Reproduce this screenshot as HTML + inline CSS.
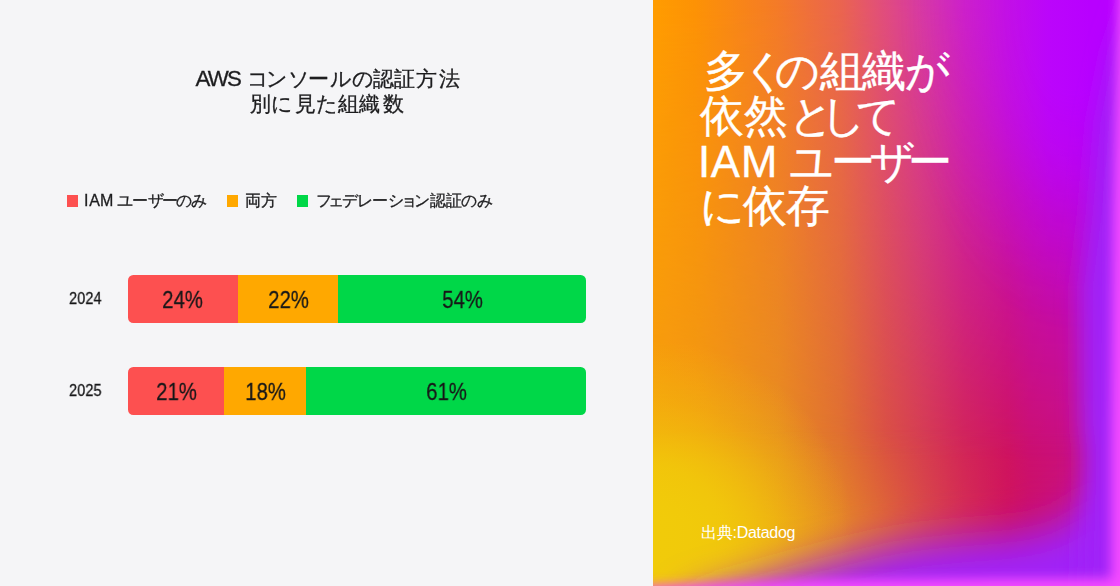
<!DOCTYPE html>
<html lang="ja">
<head>
<meta charset="utf-8">
<title>AWS コンソールの認証方法別に見た組織数</title>
<style>
*{margin:0;padding:0;box-sizing:border-box}
html,body{width:1120px;height:586px;overflow:hidden;background:#f5f5f7}
body{font-family:"Liberation Sans",sans-serif;color:#1d1d1f;position:relative}
.left{position:absolute;left:0;top:0;width:653px;height:586px;background:#f5f5f7}
.tl,.lg,.yr,.bar b{will-change:transform;-webkit-text-stroke:0.3px #1d1d1f}
.tl{position:absolute;font-size:21px;height:25px;line-height:25px;white-space:nowrap;font-weight:400}
.lg{position:absolute;top:190px;height:22px;font-size:16px;line-height:22px;white-space:nowrap}
.sw{position:absolute;top:195.4px;width:11.2px;height:11.2px}
.yr{position:absolute;left:69px;font-size:16.6px;line-height:20px;transform:scaleX(.88);transform-origin:0 50%;color:#161617}
.bar{position:absolute;left:127.7px;width:458.4px;height:48.4px;border-radius:5.3px;overflow:hidden}
.bar div{position:absolute;top:0;height:49px;text-align:center;font-size:24.5px;line-height:49.5px;color:#161617}
.bar b{display:inline-block;font-weight:400;transform:scaleX(.83)}
.r{background:#fd5050}.o{background:#ffa800}.g{background:#00d748}
.right{position:absolute;left:653px;top:0;width:467px;height:586px;overflow:hidden;background:#ff9a00}
.gsvg{position:absolute;left:0;top:0;display:block}
.head{position:absolute;left:0;top:0;color:#fff;font-size:43.6px;font-weight:400;-webkit-text-stroke:0.4px #fff}
.hl{position:absolute;left:702px;height:45px;line-height:45px;white-space:nowrap}
.src{position:absolute;left:700.6px;top:521.5px;color:#fff;font-size:16px;line-height:22px;white-space:nowrap}
.src span{letter-spacing:-0.3px}
</style>
</head>
<body>
<div class="left">
  <h1 class="tl" style="left:190px;top:66px"><span style="margin-left:5.4px;font-size:22.3px">A</span><span style="margin-left:-2.6px;font-size:22.3px">W</span><span style="margin-left:-1.7px;font-size:22.3px">S</span> <span style="margin-left:-0.8px">コ</span><span style="margin-left:-3px">ン</span>ソ<span style="margin-left:-2px">ー</span><span style="margin-left:0.9px">ル</span>の<span style="margin-left:-1px">認</span>証<span style="margin-left:1px">方</span><span style="margin-left:1.9px">法</span></h1>
  <h1 class="tl" style="left:245px;top:91px"><span style="margin-left:5.3px">別</span><span style="margin-left:-0.6px">に</span><span style="margin-left:2.1px">見</span>た組織<span style="margin-left:2.9px">数</span></h1>
  <span class="sw r" style="left:67.2px"></span><div class="lg" style="left:84px">I<span style="margin-left:0.8px">A</span>M <span style="margin-left:-0.6px">ユ</span><span style="margin-left:-0.8px">ー</span>ザ<span style="margin-left:-2px">ー</span><span style="margin-left:-2.2px">の</span><span style="margin-left:-0.8px">み</span></div>
  <span class="sw o" style="left:227px"></span><div class="lg" style="left:245px">両方</div>
  <span class="sw g" style="left:296.9px"></span><div class="lg" style="left:315px"><span style="margin-left:0.9px">フ</span><span style="margin-left:-3.6px">ェ</span><span style="margin-left:-2px">デ</span><span style="margin-left:-0.9px">レ</span><span style="margin-left:-1.8px">ー</span><span style="margin-left:0.7px">シ</span><span style="margin-left:-3.7px">ョ</span><span style="margin-left:-3px">ン</span>認証<span style="margin-left:-1.1px">の</span>み</div>
  <div class="yr" style="top:289px">2024</div>
  <div class="bar" style="top:274.7px">
    <div class="r" style="left:0;width:110.4px"><b>24%</b></div>
    <div class="o" style="left:110.4px;width:100px"><b>22%</b></div>
    <div class="g" style="left:210.4px;width:248px"><b>54%</b></div>
  </div>
  <div class="yr" style="top:381px">2025</div>
  <div class="bar" style="top:366.7px">
    <div class="r" style="left:0;width:96.8px"><b>21%</b></div>
    <div class="o" style="left:96.8px;width:81.8px"><b>18%</b></div>
    <div class="g" style="left:178.6px;width:279.8px"><b>61%</b></div>
  </div>
</div>
<div class="right">
<svg class="gsvg" width="467" height="586" viewBox="0 0 467 586">
  <defs>
    <linearGradient id="gTop" gradientUnits="userSpaceOnUse" x1="0" y1="0" x2="467" y2="0">
      <stop offset="0" stop-color="#ff9c00"/>
      <stop offset="0.09" stop-color="#fd9205"/>
      <stop offset="0.268" stop-color="#f47a28"/>
      <stop offset="0.403" stop-color="#ea6450"/>
      <stop offset="0.499" stop-color="#e04c80"/>
      <stop offset="0.58" stop-color="#d638a8"/>
      <stop offset="0.668" stop-color="#cc20cc"/>
      <stop offset="0.758" stop-color="#c210e6"/>
      <stop offset="0.848" stop-color="#bb05fb"/>
      <stop offset="0.936" stop-color="#b800ff"/>
      <stop offset="1" stop-color="#b800ff"/>
    </linearGradient>
    <linearGradient id="gBot" gradientUnits="userSpaceOnUse" x1="0" y1="0" x2="467" y2="0">
      <stop offset="0" stop-color="#f59c10"/>
      <stop offset="0.10" stop-color="#f29814"/>
      <stop offset="0.268" stop-color="#e88c20"/>
      <stop offset="0.403" stop-color="#e07030"/>
      <stop offset="0.499" stop-color="#da5042"/>
      <stop offset="0.58" stop-color="#d63c50"/>
      <stop offset="0.668" stop-color="#d22458"/>
      <stop offset="0.758" stop-color="#cf1460"/>
      <stop offset="0.807" stop-color="#cc1070"/>
      <stop offset="1" stop-color="#c81090"/>
    </linearGradient>
    <linearGradient id="gBot2" gradientUnits="userSpaceOnUse" x1="0" y1="0" x2="467" y2="0">
      <stop offset="0" stop-color="#f2cc08"/>
      <stop offset="0.133" stop-color="#f0b810"/>
      <stop offset="0.268" stop-color="#eca018"/>
      <stop offset="0.403" stop-color="#e48428"/>
      <stop offset="0.499" stop-color="#de6438"/>
      <stop offset="0.58" stop-color="#d84848"/>
      <stop offset="0.668" stop-color="#d42c54"/>
      <stop offset="0.758" stop-color="#d0145c"/>
      <stop offset="0.803" stop-color="#cc1068"/>
      <stop offset="1" stop-color="#c81090"/>
    </linearGradient>
    <linearGradient id="gFade2" gradientUnits="userSpaceOnUse" x1="0" y1="430" x2="0" y2="520">
      <stop offset="0" stop-color="#fff" stop-opacity="0"/>
      <stop offset="1" stop-color="#fff" stop-opacity="1"/>
    </linearGradient>
    <mask id="mBot2" maskUnits="userSpaceOnUse" x="0" y="0" width="467" height="586">
      <rect x="0" y="0" width="467" height="586" fill="url(#gFade2)"/>
    </mask>
    <linearGradient id="gFade" gradientUnits="userSpaceOnUse" x1="0" y1="0" x2="0" y2="460">
      <stop offset="0" stop-color="#fff" stop-opacity="1"/>
      <stop offset="1" stop-color="#fff" stop-opacity="0"/>
    </linearGradient>
    <radialGradient id="gRad" gradientUnits="userSpaceOnUse" cx="0" cy="0" r="1" gradientTransform="translate(420 0) scale(176 330)">
      <stop offset="0" stop-color="#fff" stop-opacity="1"/>
      <stop offset="0.27" stop-color="#fff" stop-opacity="1"/>
      <stop offset="0.47" stop-color="#fff" stop-opacity="0.73"/>
      <stop offset="0.66" stop-color="#fff" stop-opacity="0.36"/>
      <stop offset="0.89" stop-color="#fff" stop-opacity="0.08"/>
      <stop offset="1" stop-color="#fff" stop-opacity="0"/>
    </radialGradient>
    <mask id="mRad" maskUnits="userSpaceOnUse" x="0" y="0" width="467" height="586">
      <rect x="0" y="0" width="467" height="586" fill="url(#gRad)"/>
    </mask>
    <mask id="mTop" maskUnits="userSpaceOnUse" x="0" y="0" width="467" height="586">
      <rect x="0" y="0" width="467" height="586" fill="url(#gFade)"/>
    </mask>
    <radialGradient id="gYel" gradientUnits="userSpaceOnUse" cx="0" cy="0" r="1" gradientTransform="translate(0 535) scale(200 195)">
      <stop offset="0" stop-color="#f1cb0a" stop-opacity="1"/>
      <stop offset="0.35" stop-color="#f1cb0a" stop-opacity="0.8"/>
      <stop offset="0.7" stop-color="#f1cb0a" stop-opacity="0.3"/>
      <stop offset="1" stop-color="#f1cb0a" stop-opacity="0"/>
    </radialGradient>
    <filter id="bl18" x="-30%" y="-30%" width="160%" height="160%"><feGaussianBlur stdDeviation="20"/></filter>
    <filter id="bl11" x="-30%" y="-30%" width="160%" height="160%"><feGaussianBlur stdDeviation="11"/></filter>
    <filter id="bl5" x="-30%" y="-30%" width="160%" height="160%"><feGaussianBlur stdDeviation="6"/></filter>
  </defs>
  <rect width="467" height="586" fill="url(#gBot)"/>
  <rect width="467" height="586" fill="url(#gBot2)" mask="url(#mBot2)"/>
  <rect width="467" height="586" fill="url(#gTop)" mask="url(#mTop)"/>
  <rect width="467" height="586" fill="url(#gTop)" mask="url(#mRad)"/>
  <rect width="467" height="586" fill="url(#gYel)"/>
  <g filter="url(#bl18)">
    <polygon fill="#a020f8" points="20,640 40,600 90,586 162,566 247,546 307,540 362,536 395,530 420,518 440,500 560,500 560,640"/>
  </g>
  <g filter="url(#bl11)">
    <polygon fill="#a020f8" points="426,640 430,497 431,453 428,426 427,290 436,215 444,120 458,50 478,-10 560,-10 560,640"/>
  </g>
  <g filter="url(#bl5)">
    <polygon fill="#f44cff" points="466,-30 520,-30 520,640 458,640 458,450 460,215"/>
    <polygon fill="#f44cff" points="-30,587 0,586 167,580 347,578.5 456,578.5 520,578.5 520,640 -30,640"/>
  </g>
</svg>
</div>
<div class="head">
<div class="hl" style="top:49.4px"><span style="margin-left:2px">多</span><span style="margin-left:-6.4px">く</span><span style="margin-left:-12px">の</span>組<span style="margin-left:-1.5px">織</span><span style="margin-left:-1px">が</span></div>
<div class="hl" style="top:93.6px"><span style="margin-left:-2.1px">依</span>然<span style="margin-left:1.4px">と</span><span style="margin-left:-13.4px">し</span><span style="margin-left:-9.5px">て</span></div>
<div class="hl" style="top:139.6px"><span style="margin-left:-3.9px">I</span><span style="margin-left:0.6px">A</span><span style="margin-left:1.1px">M</span> <span style="margin-left:-0.7px">ユ</span><span style="margin-left:-2.8px">ー</span><span style="margin-left:-4.6px">ザ</span><span style="margin-left:-6.9px">ー</span></div>
<div class="hl" style="top:183.5px"><span style="margin-left:-1.9px">に</span><span style="margin-left:-1.9px">依</span><span style="margin-left:-1.5px">存</span></div>
</div>
<div class="src">出典<span>:Datadog</span></div>
</body>
</html>
